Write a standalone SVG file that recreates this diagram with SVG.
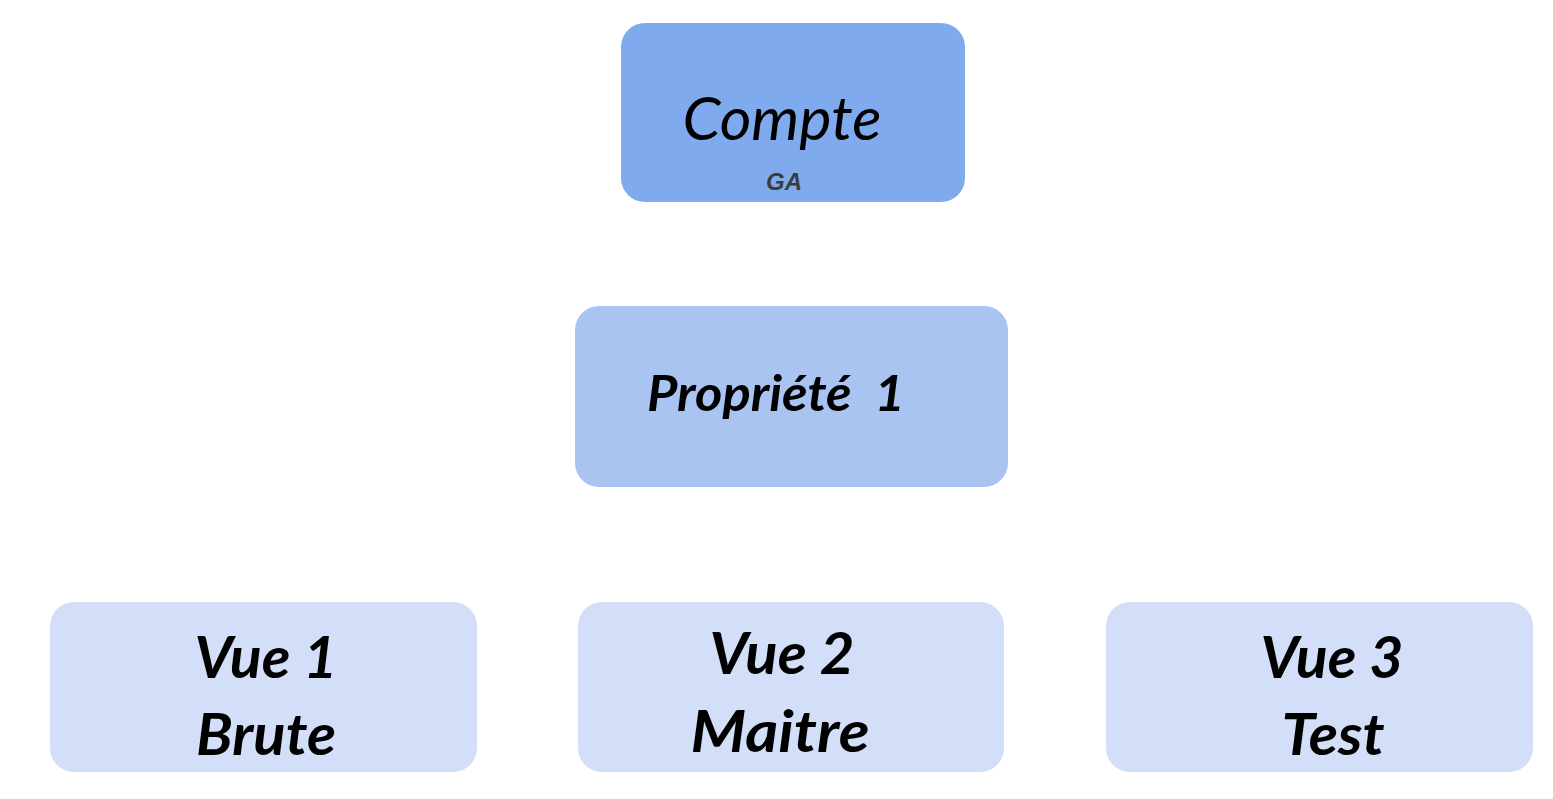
<svg xmlns="http://www.w3.org/2000/svg" width="1553" height="799" viewBox="0 0 1553 799">
<style>
.t{font-family:Lato,"Open Sans","Noto Sans",sans-serif;font-style:italic;fill:#000;text-anchor:middle}
.b{font-weight:bold}
.v{font-size:58px}
</style>
<rect width="1553" height="799" fill="#ffffff"/>
<g id="connectors"></g>
<g id="compte">
<rect x="621" y="23" width="344" height="179" rx="24" fill="#80aaee"/>
<text class="t" x="782" y="140" font-size="60" textLength="199" lengthAdjust="spacingAndGlyphs">Compte</text>
<text x="784" y="190" font-family="'Liberation Sans',Arial,sans-serif" font-size="24" font-weight="bold" font-style="italic" fill="#3c3c3c" text-anchor="middle">GA</text>
</g>
<g id="propriete">
<rect x="575" y="306" width="433" height="181" rx="24" fill="#aac4f2"/>
<text class="t b" x="647" y="411" font-size="50" style="text-anchor:start" xml:space="preserve" textLength="258" lengthAdjust="spacingAndGlyphs">Propriété  1</text>
</g>
<g id="vue1">
<rect x="50" y="602" width="427" height="170" rx="24" fill="#d3dff8"/>
<text class="t b v" x="266" y="678" textLength="143" lengthAdjust="spacingAndGlyphs">Vue 1</text>
<text class="t b v" x="266" y="755" textLength="140" lengthAdjust="spacingAndGlyphs">Brute</text>
</g>
<g id="vue2">
<rect x="578" y="602" width="426" height="170" rx="24" fill="#d3dff8"/>
<text class="t b v" x="782" y="674" textLength="145" lengthAdjust="spacingAndGlyphs">Vue 2</text>
<text class="t b v" x="780" y="752" textLength="179" lengthAdjust="spacingAndGlyphs">Maitre</text>
</g>
<g id="vue3">
<rect x="1106" y="602" width="427" height="170" rx="24" fill="#d3dff8"/>
<text class="t b v" x="1332" y="678" textLength="143" lengthAdjust="spacingAndGlyphs">Vue 3</text>
<text class="t b v" x="1333" y="755" textLength="103" lengthAdjust="spacingAndGlyphs">Test</text>
</g>
</svg>
